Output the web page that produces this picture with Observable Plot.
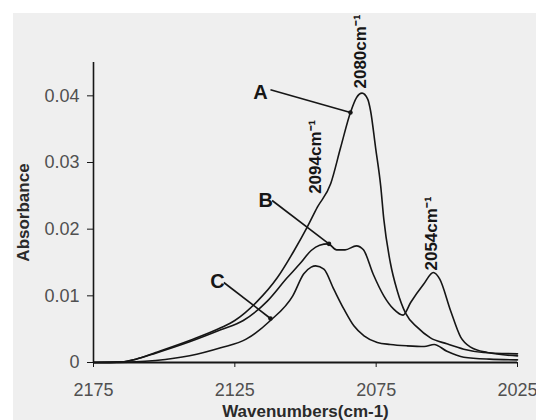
<!DOCTYPE html>
<html><head><meta charset="utf-8">
<script src="https://cdn.jsdelivr.net/npm/d3@7"></script>
<script src="https://cdn.jsdelivr.net/npm/@observablehq/plot@0.6"></script>
<style>
html,body{margin:0;padding:0;background:#fff;}
#wrap{position:absolute;left:13px;top:13px;width:523px;height:407px;background:#efefef;overflow:hidden;}
</style></head><body><div id="wrap"></div>
<script>
// Spectrum A
const waveA = [2175,2165,2160,2153,2141,2130,2125,2117,2110,2104,2099.4,2095.8,2091.1,2087.6,2084.1,2082,2080,2078,2077,2075.2,2073.4,2072.3,2070,2067.5,2064.6,2060.5,2055.8,2050,2044,2037,2025];
const absA  = [0,0.0001,0.0005,0.0015,0.0033,0.0052,0.0063,0.0092,0.0127,0.0168,0.0203,0.0233,0.0268,0.0322,0.0375,0.0397,0.0404,0.0395,0.0378,0.0322,0.0265,0.0215,0.0150,0.0107,0.0074,0.0053,0.0037,0.0028,0.0020,0.0015,0.0013];
// Spectrum B
const waveB = [2175,2165,2160,2153,2141,2130,2122,2113.5,2106.5,2102,2098,2095,2092,2089,2086,2082,2079.5,2076,2072.3,2068.8,2065.5,2062.8,2058.1,2054.8,2052.5,2048.7,2045.1,2041.6,2035.7,2025];
const absB  = [0,0.0001,0.0005,0.0014,0.0031,0.0049,0.0063,0.0092,0.0127,0.0148,0.0168,0.0176,0.0178,0.0169,0.0169,0.0175,0.0169,0.0132,0.0100,0.0080,0.0071,0.0090,0.0118,0.0135,0.0125,0.0078,0.0038,0.0023,0.0015,0.0010];
// Spectrum C
const waveC = [2175,2160,2153,2141,2130,2121,2112.4,2104.5,2100.6,2098,2096.4,2093.5,2090,2086.4,2082.9,2079.3,2074.6,2070,2064,2058,2054.5,2050,2044,2035,2025];
const absC  = [0,0.0001,0.0003,0.0010,0.0022,0.0035,0.0063,0.0100,0.0133,0.0143,0.0145,0.0140,0.0110,0.0080,0.0055,0.0040,0.0030,0.0027,0.0025,0.0024,0.0027,0.0017,0.0008,0.0005,0.0004];

const xTicks = [2175,2125,2075,2025];
const yTicks = [0,0.01,0.02,0.03,0.04];

const curveLabels = ["A","B","C"];
const labelWave = [2115.9,2114.1,2131.1];
const labelAbs  = [0.0405,0.0243,0.0121];
const arrowFromWave = [2112.4,2111.8,2128.9];
const arrowFromAbs  = [0.0409,0.0243,0.0120];
const arrowToWave = [2084.1,2091.7,2112.4];
const arrowToAbs  = [0.0375,0.0178,0.0066];

const peakLabels = ["2080cm\u207B\u00B9","2094cm\u207B\u00B9","2054cm\u207B\u00B9"];
const peakWave = [2080.5,2096.4,2055.4];
const peakAbs  = [0.0411,0.0253,0.0138];

const toRows = (w, a) => w.map((v, i) => ({w: v, a: a[i]}));
const rowsA = toRows(waveA, absA), rowsB = toRows(waveB, absB), rowsC = toRows(waveC, absC);
const labels = curveLabels.map((t, i) => ({t, w: labelWave[i], a: labelAbs[i]}));
const arrows = curveLabels.map((t, i) => ({w1: arrowFromWave[i], a1: arrowFromAbs[i], w2: arrowToWave[i], a2: arrowToAbs[i]}));
const peaks = peakLabels.map((t, i) => ({t, w: peakWave[i], a: peakAbs[i]}));

const ink = "#161616";
const chart = Plot.plot({
  width: 523, height: 407,
  marginLeft: 80, marginRight: 19, marginTop: 49, marginBottom: 58,
  style: {background: "transparent", fontFamily: "'Liberation Sans', Arial, sans-serif", fontSize: "18px", color: ink},
  x: {domain: [2175, 2025]},
  y: {domain: [0, 0.045]},
  marks: [
    Plot.axisX(xTicks, {tickSize: 5, tickPadding: 16, label: null, fill: "#505050", stroke: ink, tickFormat: d => String(d)}),
    Plot.axisY(yTicks, {tickSize: 6, tickPadding: 8, label: null, fill: "#505050", stroke: ink,
      tickFormat: d => d === 0 ? "0" : d.toFixed(2)}),
    Plot.ruleY([0], {stroke: ink, strokeWidth: 1.8}),
    Plot.ruleX([2175], {stroke: ink, strokeWidth: 1.6}),
    Plot.line(rowsA, {x: "w", y: "a", curve: "monotone-x", stroke: ink, strokeWidth: 1.6}),
    Plot.line(rowsB, {x: "w", y: "a", curve: "monotone-x", stroke: ink, strokeWidth: 1.6}),
    Plot.line(rowsC, {x: "w", y: "a", curve: "monotone-x", stroke: ink, strokeWidth: 1.6}),
    Plot.link(arrows, {x1: "w1", y1: "a1", x2: "w2", y2: "a2", stroke: ink, strokeWidth: 1.6}),
    Plot.dot(arrows, {x: "w2", y: "a2", r: 2.3, fill: ink}),
    Plot.text(labels, {x: "w", y: "a", text: "t", fontSize: 20, fontWeight: "bold", fill: ink}),
    Plot.text(peaks, {x: "w", y: "a", text: "t", rotate: -90, textAnchor: "start", lineAnchor: "middle", fontSize: 17, fontWeight: "bold", fill: ink}),
    Plot.text(["Absorbance"], {frameAnchor: "left", dx: -70, rotate: -90, textAnchor: "middle", lineAnchor: "middle", fontSize: 17, fontWeight: "bold", fill: "#2a2a2a"}),
    Plot.text(["Wavenumbers(cm-1)"], {frameAnchor: "bottom", dy: 49, textAnchor: "middle", lineAnchor: "middle", fontSize: 17, fontWeight: "bold", fill: "#2a2a2a"})
  ]
});
document.getElementById("wrap").appendChild(chart);
</script>
</body></html>
